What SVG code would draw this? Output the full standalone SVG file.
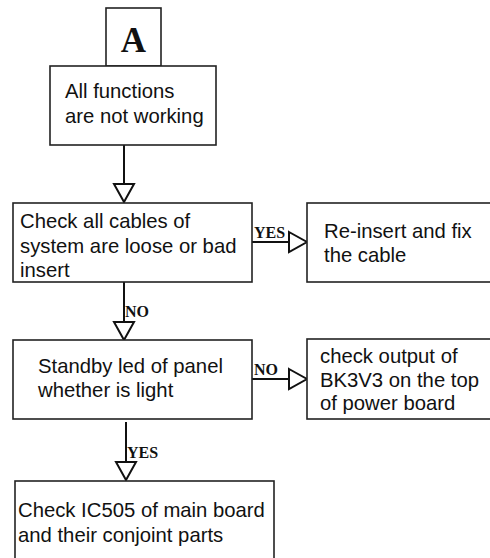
<svg xmlns="http://www.w3.org/2000/svg" width="490" height="558" viewBox="0 0 490 558">
  <style>
    .box { fill: #fff; stroke: #222; stroke-width: 1.6; }
    .txt { font-family: "Liberation Sans", Arial, sans-serif; font-size: 20.3px; fill: #111; }
    .tag { font-family: "Liberation Serif", "Times New Roman", serif; font-weight: bold; font-size: 16px; fill: #111; }
    .big { font-family: "Liberation Serif", "Times New Roman", serif; font-weight: bold; font-size: 35px; fill: #111; }
    .wire { fill: none; stroke: #111; stroke-width: 2; marker-end: url(#head); }
  </style>
  <defs>
    <marker id="head" markerUnits="userSpaceOnUse" viewBox="-2 -2 22 24" markerWidth="22" markerHeight="24" refX="18" refY="10" orient="auto">
      <path d="M0,0 L18,10 L0,20 Z" fill="#fff" stroke="#111" stroke-width="2" stroke-linejoin="miter"/>
    </marker>
  </defs>

  <g id="connectors">
    <path class="wire" d="M124,145 V202"/>
    <path class="wire" d="M252,242 H307"/>
    <path class="wire" d="M124,282 V340"/>
    <path class="wire" d="M252,379 H307"/>
    <path class="wire" d="M126,422 V480"/>
    <text class="tag" x="254" y="238">YES</text>
    <text class="tag" x="125" y="317">NO</text>
    <text class="tag" x="254" y="375">NO</text>
    <text class="tag" x="127" y="458">YES</text>
  </g>

  <g id="start-A">
    <rect class="box" x="106" y="8" width="55" height="58"/>
    <text class="big" x="133.5" y="52" text-anchor="middle">A</text>
  </g>

  <g id="node-all-functions">
    <rect class="box" x="50" y="66" width="166" height="79"/>
    <text class="txt" x="65" y="98">All functions</text>
    <text class="txt" x="65" y="123">are not working</text>
  </g>

  <g id="node-check-cables">
    <rect class="box" x="13" y="203" width="239" height="79"/>
    <text class="txt" x="20" y="228">Check all cables of</text>
    <text class="txt" x="20" y="253">system are loose or bad</text>
    <text class="txt" x="20" y="277">insert</text>
  </g>

  <g id="node-reinsert">
    <rect class="box" x="307" y="203" width="190" height="79"/>
    <text class="txt" x="324" y="238">Re-insert and fix</text>
    <text class="txt" x="324" y="262">the cable</text>
  </g>

  <g id="node-standby-led">
    <rect class="box" x="13" y="340" width="239" height="79"/>
    <text class="txt" x="38" y="373">Standby led of panel</text>
    <text class="txt" x="38" y="397">whether is light</text>
  </g>

  <g id="node-bk3v3">
    <rect class="box" x="307" y="339" width="190" height="80"/>
    <text class="txt" x="320" y="363">check output of</text>
    <text class="txt" x="320" y="387">BK3V3 on the top</text>
    <text class="txt" x="320" y="410">of power board</text>
  </g>

  <g id="node-ic505">
    <rect class="box" x="15" y="481" width="259" height="90"/>
    <text class="txt" x="18" y="517">Check IC505 of main board</text>
    <text class="txt" x="18" y="542">and their conjoint parts</text>
  </g>
</svg>
